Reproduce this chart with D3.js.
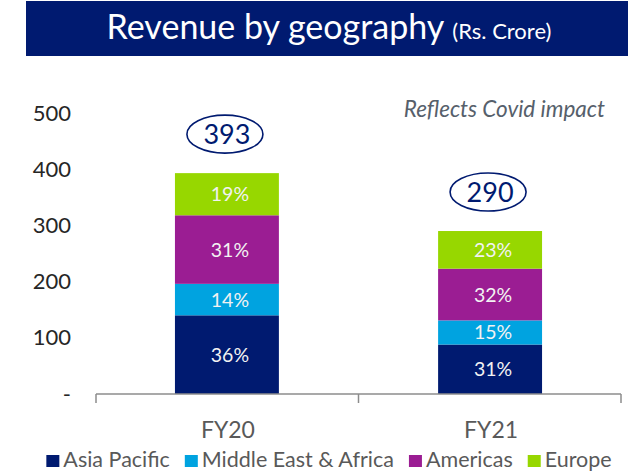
<!DOCTYPE html>
<html>
<head>
<meta charset="utf-8">
<script src="https://cdn.jsdelivr.net/npm/d3@7"></script>
<style>
  html, body { margin: 0; padding: 0; background: #ffffff; }
  svg { display: block; font-family: Lato, "Open Sans", sans-serif; }
</style>
</head>
<body>
<svg id="chart" width="628" height="473"></svg>
<script>
// ---- data ----
const categories = ["FY20", "FY21"];
const regions = ["Asia Pacific", "Middle East & Africa", "Americas", "Europe"];
const asiaPacific = [140, 88];
const middleEastAfrica = [56, 43];
const americas = [122, 92];
const europe = [75, 67];
const shareLabels = [
  ["36%", "14%", "31%", "19%"],
  ["31%", "15%", "32%", "23%"]
];
const totals = [393, 290];
const yTicks = [0, 100, 200, 300, 400, 500];
const titleText = "Revenue by geography";
const titleUnit = "(Rs. Crore)";
const noteText = "Reflects Covid impact";

// ---- styles ----
const colors = ["#001a70", "#00a3e0", "#9b1d93", "#97d700"];
const navy = "#001a70";
const greyText = "#595959";

const svg = d3.select("#chart");
const W = 628, H = 473;

// Title banner
svg.append("rect").attr("x", 26).attr("y", 1).attr("width", W - 26).attr("height", 55)
  .attr("fill", navy);
const title = svg.append("text").attr("x", 329).attr("y", 39)
  .attr("text-anchor", "middle").attr("fill", "#ffffff");
title.append("tspan").attr("font-size", 34).text(titleText);
title.append("tspan").attr("font-size", 22).attr("dx", 8).text(titleUnit);

// scales
const y = d3.scaleLinear().domain([0, 500]).range([394, 113]);
const x = d3.scaleBand().domain(categories).range([96, 621])
  .paddingInner(0.605).paddingOuter(0.3);

// stacked data
const rows = categories.map((c, i) => ({
  cat: c,
  "Asia Pacific": asiaPacific[i],
  "Middle East & Africa": middleEastAfrica[i],
  "Americas": americas[i],
  "Europe": europe[i]
}));
const stack = d3.stack().keys(regions)(rows);

// y axis (labels only)
const yAxis = svg.append("g").attr("transform", "translate(76,0)")
  .call(d3.axisLeft(y).tickValues(yTicks).tickSize(0).tickPadding(5)
    .tickFormat(d => d === 0 ? "-" : d));
yAxis.select(".domain").remove();
yAxis.selectAll("text").attr("font-size", 22).attr("fill", "#262626")
  .attr("font-family", "Lato, 'Open Sans', sans-serif");

// bars
const layers = svg.append("g").selectAll("g").data(stack).join("g")
  .attr("fill", (d, i) => colors[i]);
layers.selectAll("rect").data(d => d).join("rect")
  .attr("x", d => x(d.data.cat))
  .attr("width", x.bandwidth())
  .attr("y", d => y(d[1]))
  .attr("height", d => y(d[0]) - y(d[1]));

// share labels
stack.forEach((layer, li) => {
  layer.forEach((d, ci) => {
    svg.append("text")
      .attr("x", x(d.data.cat) + x.bandwidth() / 2 + 3)
      .attr("y", (y(d[0]) + y(d[1])) / 2)
      .attr("dy", "0.36em")
      .attr("text-anchor", "middle")
      .attr("font-size", 19.5)
      .attr("fill", "#f2f2f2")
      .text(shareLabels[ci][li]);
  });
});

// x axis line with ticks at band edges
const axisG = svg.append("g").attr("stroke", "#8c8c8c").attr("stroke-width", 1.5);
const [x0, x1] = x.range();
axisG.append("line").attr("x1", x0).attr("x2", x1).attr("y1", y(0)).attr("y2", y(0));
const edges = [x0, (x(categories[0]) + x(categories[1]) + x.bandwidth()) / 2, x1];
edges.forEach(e => axisG.append("line").attr("x1", e).attr("x2", e)
  .attr("y1", y(0)).attr("y2", y(0) + 9));

// category labels
categories.forEach(c => {
  svg.append("text").attr("x", x(c) + x.bandwidth() / 2 + 1).attr("y", 438)
    .attr("text-anchor", "middle").attr("font-size", 23)
    .attr("fill", greyText).text(c);
});

// total ellipses
categories.forEach((c, i) => {
  const cx = x(c) + x.bandwidth() / 2 - 2;
  const cy = y(totals[i]) - 39;
  svg.append("ellipse").attr("cx", cx).attr("cy", cy).attr("rx", 38).attr("ry", 19)
    .attr("fill", "none").attr("stroke", navy).attr("stroke-width", 1.6);
  svg.append("text").attr("x", cx + 2).attr("y", cy).attr("dy", "0.36em")
    .attr("text-anchor", "middle").attr("font-size", 27).attr("fill", navy).text(totals[i]);
});

// note
svg.append("text").attr("x", 605).attr("y", 117).attr("text-anchor", "end")
  .attr("font-size", 22.5).attr("font-style", "italic")
  .attr("fill", "#56606b").text(noteText);

// legend
const legend = svg.append("g");
let lx = 0;
regions.forEach((r, i) => {
  const g = legend.append("g").attr("transform", `translate(${lx},0)`);
  g.append("rect").attr("x", 0).attr("y", -12).attr("width", 13).attr("height", 12).attr("fill", colors[i]);
  const t = g.append("text").attr("x", 17).attr("y", 0).attr("font-size", 21.5)
    .attr("fill", greyText).text(r);
  lx += 17 + t.node().getComputedTextLength() + 15;
});
const legendW = lx - 15;
legend.attr("transform", `translate(${329 - legendW / 2},467)`);
</script>
</body>
</html>
